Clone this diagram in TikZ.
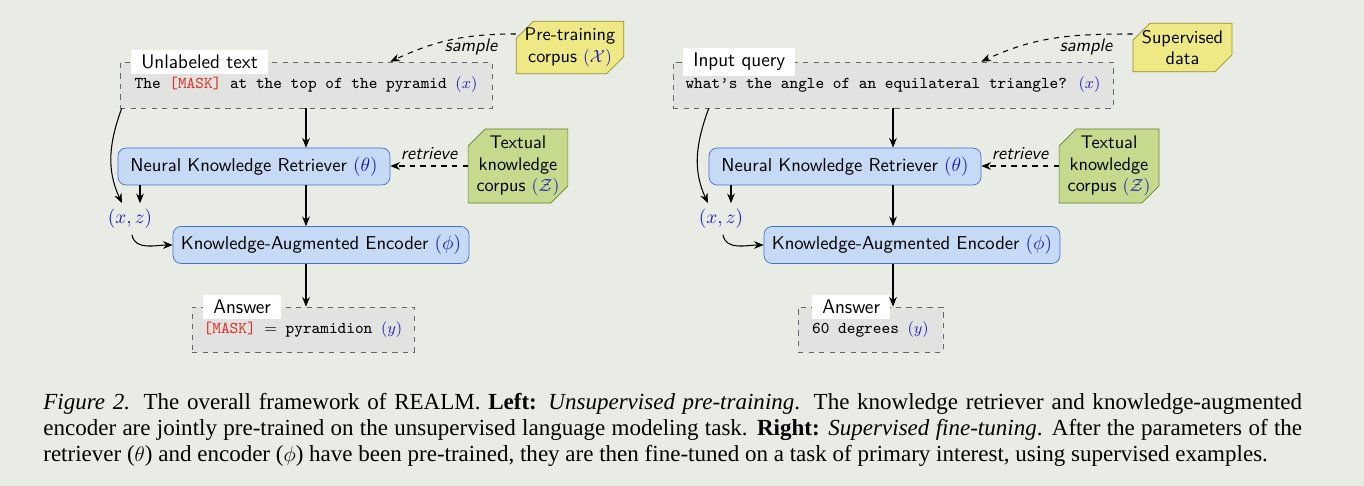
\documentclass[tikz,border=0pt]{standalone}
\usepackage{fontspec}
\setmainfont{Liberation Serif}
\usetikzlibrary{shapes.misc,arrows.meta,calc}

\definecolor{bgcol}{RGB}{233,236,228}
\definecolor{graycol}{RGB}{226,227,225}
\definecolor{bluefill}{RGB}{198,217,245}
\definecolor{blueline}{RGB}{66,112,206}
\definecolor{greenfill}{RGB}{197,218,141}
\definecolor{greenline}{RGB}{98,128,52}
\definecolor{yellowfill}{RGB}{238,233,132}
\definecolor{yellowline}{RGB}{150,142,50}
\definecolor{mathblue}{RGB}{28,28,190}
\definecolor{maskred}{RGB}{222,52,42}

\newcommand{\mb}[1]{\textcolor{mathblue}{$#1$}}
\newcommand{\msk}{\textcolor{maskred}{[MASK]}}

\tikzset{
  querybox/.style={draw=black!60, dashed, fill=graycol, minimum height=0.92cm,
    inner sep=0pt, font=\ttfamily\fontsize{9.4}{11}\selectfont},
  tagbox/.style={fill=white, anchor=west, inner xsep=0.2cm, inner ysep=0.1cm,
    font=\sffamily\fontsize{11.2}{13}\selectfont},
  modelbox/.style={draw=blueline, fill=bluefill, rounded corners=0.16cm,
    minimum height=0.74cm, inner sep=0pt},
  corpusbox/.style={chamfered rectangle, chamfered rectangle corners={north west,south east},
    chamfered rectangle xsep=0.17cm, chamfered rectangle ysep=0.17cm,
    align=center, inner xsep=0pt, inner ysep=-1pt, font=\sffamily\fontsize{10.4}{12.4}\selectfont},
  arr/.style={-{Stealth[length=5.5pt,width=4.4pt]}, semithick},
  edgetext/.style={font=\sffamily\itshape\fontsize{10.4}{12}\selectfont}
}

\begin{document}
\begin{tikzpicture}[x=0.02cm, y=0.02cm, font=\sffamily\fontsize{10.6}{12.5}\selectfont]
\fill[bgcol] (0,0) rectangle (1364,486);
\useasboundingbox (0,0) rectangle (1364,486);

% left: unsupervised pre-training
\begin{scope}
\node[querybox, minimum width=7.44cm] (inL) at (306,401) {The \msk{} at the top of the pyramid \mb{(x)}};
\node[tagbox] (tagL) at (131,424) {Unlabeled text};
\node[modelbox, minimum width=5.44cm] (retL) at (254,319.5) {Neural Knowledge Retriever \mb{(\theta)}};
\node[corpusbox, fill=greenfill, draw=greenline] (zL) at (518,320) {Textual\\knowledge\\corpus \mb{(\mathcal{Z})}};
\node[corpusbox, fill=yellowfill, draw=yellowline] (xL) at (570,438.5) {Pre-training\\corpus \mb{(\mathcal{X})}};
\node[modelbox, minimum width=5.92cm] (encL) at (321,241) {Knowledge-Augmented Encoder \mb{(\phi)}};
\node[querybox, minimum width=4.44cm, minimum height=0.9cm] (ansL) at (303,156.5) {\msk{} $=$ pyramidion \mb{(y)}};
\node[tagbox] (tagLa) at (203,179) {Answer};
\node[text=mathblue] (xzL) at (130,267) {$(x,z)$};
\node[edgetext] (smpL) at (471,439) {sample};
\coordinate (sL) at (inL.north -| retL.east);

\draw[arr] (inL.south) -- (inL.south |- retL.north);
\draw[arr] (inL.south |- retL.south) -- (inL.south |- encL.north);
\draw[arr] (inL.south |- encL.south) -- (inL.south |- ansL.north);
\draw[arr, dashed] (zL.west) -- node[edgetext, above] {retrieve} (zL.west -| retL.east);
\draw[arr, dashed] (xL.west |- 0,452) to[out=180, in=25] (sL);
\draw[arr] ($(inL.south west)+(2,0)$) to[out=-110, in=115] ($(xzL.north)+(-8,0)$);
\draw[arr] (retL.south -| 140,0) -- (xzL.north -| 140,0);
\draw[arr] ($(xzL.south)+(2,0)$) to[out=-80, in=180] (encL.west);
\end{scope}

% right: supervised fine-tuning
\begin{scope}
\node[querybox, minimum width=8.8cm] (inR) at (893,401) {what’s the angle of an equilateral triangle? \mb{(x)}};
\node[tagbox] (tagR) at (683,424) {Input query};
\node[modelbox, minimum width=5.44cm] (retR) at (845,319.5) {Neural Knowledge Retriever \mb{(\theta)}};
\node[corpusbox, fill=greenfill, draw=greenline] (zR) at (1109,320) {Textual\\knowledge\\corpus \mb{(\mathcal{Z})}};
\node[corpusbox, fill=yellowfill, draw=yellowline, minimum width=1.98cm] (xR) at (1182.5,438.5) {Supervised\\data};
\node[modelbox, minimum width=5.92cm] (encR) at (912,241) {Knowledge-Augmented Encoder \mb{(\phi)}};
\node[querybox, minimum width=2.9cm, minimum height=0.9cm] (ansR) at (870.5,156.5) {60 degrees \mb{(y)}};
\node[tagbox] (tagRa) at (812,179) {Answer};
\node[text=mathblue] (xzR) at (721,267) {$(x,z)$};
\node[edgetext] (smpR) at (1086,439) {sample};
\coordinate (sR) at (inR.north -| retR.east);

\draw[arr] (inR.south) -- (inR.south |- retR.north);
\draw[arr] (inR.south |- retR.south) -- (inR.south |- encR.north);
\draw[arr] (inR.south |- encR.south) -- (inR.south |- ansR.north);
\draw[arr, dashed] (zR.west) -- node[edgetext, above] {retrieve} (zR.west -| retR.east);
\draw[arr, dashed] (xR.west |- 0,452) to[out=180, in=25] (sR);
\draw[arr] ($(inR.south west)+(36,0)$) to[out=-110, in=115] ($(xzR.north)+(-13,0)$);
\draw[arr] (retR.south -| 731,0) -- (xzR.north -| 731,0);
\draw[arr] ($(xzR.south)+(2,0)$) to[out=-80, in=180] (encR.west);
\end{scope}

% caption
\begin{scope}[font=\rmfamily\fontsize{13.1}{15}\selectfont]
\node[anchor=base west, inner sep=0pt] (cap1) at (43,76) {\makebox[25.18cm][s]{\textit{Figure 2.} The overall framework of REALM. \textbf{Left:} \textit{Unsupervised pre-training}. The knowledge retriever and knowledge-augmented}};
\node[anchor=base west, inner sep=0pt] (cap2) at (43,50) {\makebox[25.18cm][s]{encoder are jointly pre-trained on the unsupervised language modeling task. \textbf{Right:} \textit{Supervised fine-tuning}. After the parameters of the}};
\node[anchor=base west, inner sep=0pt] (cap3) at (43,24) {retriever ($\theta$) and encoder ($\phi$) have been pre-trained, they are then fine-tuned on a task of primary interest, using supervised examples.};
\end{scope}
\end{tikzpicture}
\end{document}
